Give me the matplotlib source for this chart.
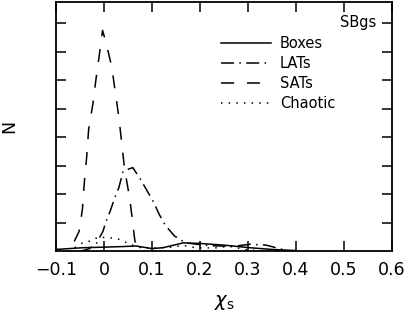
import matplotlib
matplotlib.use("Agg")
import matplotlib.pyplot as plt

# Data
boxes_x = [-0.100, -0.044, 0.000, 0.038, 0.067, 0.100, 0.123, 0.165, 0.200, 0.250, 0.304, 0.349, 0.400]
boxes_y = [0.07, 0.13, 0.15, 0.17, 0.19, 0.10, 0.13, 0.30, 0.28, 0.22, 0.13, 0.07, 0.03]

lats_x = [-0.050, -0.030, -0.015, -0.002, 0.0035, 0.012, 0.022, 0.031, 0.040, 0.060, 0.076,
          0.103, 0.115, 0.128, 0.147, 0.170, 0.220, 0.270, 0.304, 0.338, 0.372]
lats_y = [0.00, 0.10, 0.30, 0.71, 1.02, 1.37, 1.86, 2.24, 2.82, 2.94, 2.53,
          1.74, 1.30, 0.91, 0.54, 0.30, 0.20, 0.18, 0.25, 0.22, 0.07]

sats_x = [-0.062, -0.052, -0.045, -0.041, -0.036, -0.032, -0.023, -0.017, -0.009, -0.003,
          0.0035, 0.016, 0.031, 0.043, 0.054, 0.064, 0.068]
sats_y = [0.35, 0.70, 1.47, 2.42, 3.33, 4.28, 5.19, 6.00, 6.98, 7.75,
          7.37, 6.49, 4.70, 2.88, 1.82, 0.42, 0.10]

chaotic_x = [-0.061, -0.045, -0.030, -0.012, 0.012, 0.033, 0.054, 0.074, 0.100, 0.137,
             0.165, 0.190, 0.230, 0.260, 0.300, 0.330]
chaotic_y = [0.13, 0.30, 0.36, 0.50, 0.48, 0.42, 0.25, 0.14, 0.12, 0.14,
             0.21, 0.13, 0.12, 0.18, 0.05, 0.02]

labels = ["Boxes", "LATs", "SATs", "Chaotic"]
xticks = [-0.1, 0, 0.1, 0.2, 0.3, 0.4, 0.5, 0.6]
xticklabels = ["\u22120.1", "0", "0.1", "0.2", "0.3", "0.4", "0.5", "0.6"]
yticks = [1, 2, 3, 4, 5, 6, 7, 8]

plt.rcParams['font.family'] = ['DejaVu Sans']
fig = plt.figure(figsize=(4.07, 3.24), dpi=100)
ax = fig.add_axes([0.1376, 0.224, 0.8254, 0.770])

lw = 1.1
ax.plot(boxes_x, boxes_y, color='black', lw=lw, ls='-', label=labels[0])
ax.plot(lats_x, lats_y, color='black', lw=lw, ls=(0, (8.5, 3.5, 1.0, 3.5)), label=labels[1])
ax.plot(sats_x, sats_y, color='black', lw=lw, ls=(0, (8.5, 8.5)), label=labels[2])
ax.plot(chaotic_x, chaotic_y, color='black', lw=lw, ls=(0, (1.0, 4.0)), label=labels[3])

ax.set_xlim(-0.1, 0.6)
ax.set_ylim(0, 8.75)
ax.set_xticks(xticks)
ax.set_xticklabels(xticklabels, fontsize=12.5)
ax.set_yticks(yticks)
ax.set_yticklabels([])
ax.tick_params(direction='in', length=7.5, width=1.1, top=True, right=True, pad=7)
for s in ax.spines.values():
    s.set_linewidth(1.3)

ax.set_xlabel(r"$\chi_{\rm s}$", fontsize=14, labelpad=10)
ax.set_ylabel("N", fontsize=12.5, labelpad=20)

ax.text(0.954, 0.916, "SBgs", transform=ax.transAxes, ha='right', va='center', fontsize=10.5)
ax.legend(loc='upper left', bbox_to_anchor=(0.475, 0.885), frameon=False, fontsize=10.5,
          handlelength=3.4, handletextpad=0.6, labelspacing=0.33, borderaxespad=0)

fig.savefig("out.png", dpi=100)
